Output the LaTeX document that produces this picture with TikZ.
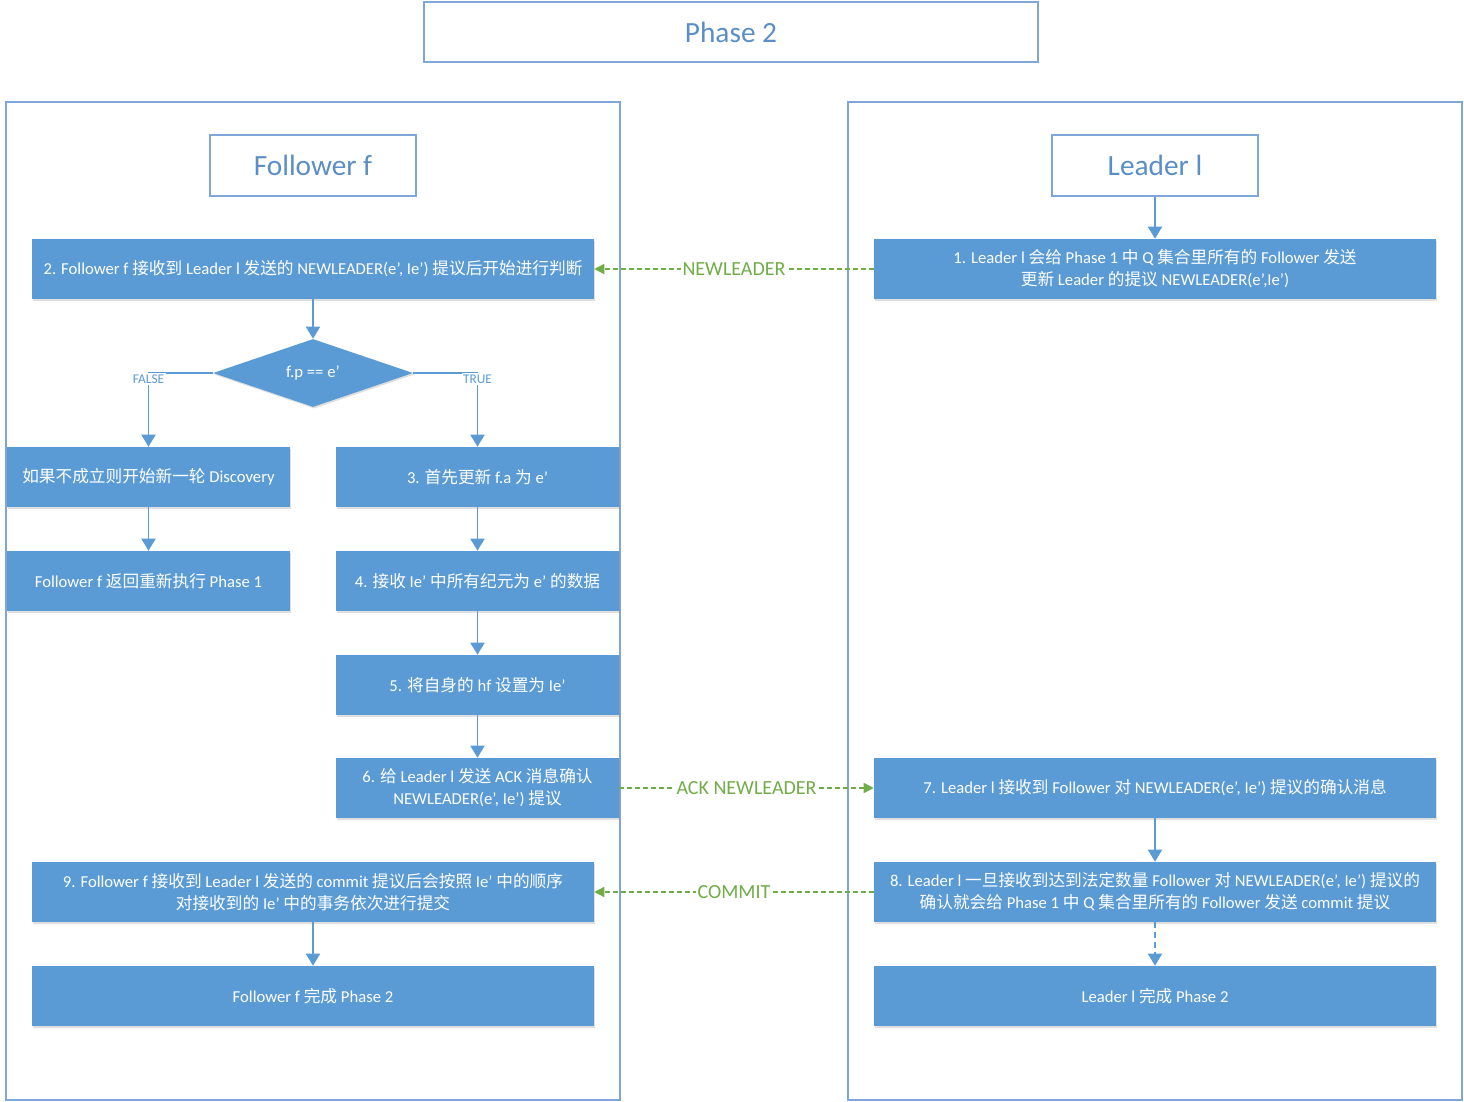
\documentclass[tikz,border=0pt]{standalone}
\usepackage{fontspec}
\setmainfont{Carlito}
\newfontfamily\cjk{Noto Sans CJK SC}
\newcommand\zh[1]{{\cjk #1}}
\usetikzlibrary{arrows.meta,shapes.geometric,shadows}
\definecolor{boxblue}{HTML}{5B9BD5}
\definecolor{linegreen}{HTML}{70AD47}
\definecolor{titleblue}{HTML}{5B8EC6}
\definecolor{frameblue}{HTML}{7EA6D8}
\tikzset{
  shd/.style={drop shadow={shadow xshift=0.9pt, shadow yshift=-1.2pt, opacity=0.25, fill=gray}},
  blk/.style={fill=boxblue, draw=none, text=white, minimum height=60*0.75pt, inner sep=0pt,
    align=center, font=\fontsize{12.5pt}{16.5pt}\selectfont, shd},
  frm/.style={draw=frameblue, line width=0.8pt, fill=none, inner sep=0pt},
  hdr/.style={draw=frameblue, line width=0.8pt, text=titleblue, inner sep=0pt,
    font=\fontsize{22pt}{26pt}\selectfont},
  arr/.style={draw=boxblue, line width=1.3pt, -{Triangle[width=10.5pt,length=9pt]}},
  garr/.style={draw=linegreen, line width=1.1pt, dash pattern=on 3.7pt off 2.3pt,
    -{Triangle[width=7.5pt,length=7.5pt]}},
  glbl/.style={fill=white, text=linegreen, inner sep=1pt, font=\fontsize{15pt}{17pt}\selectfont},
  tlbl/.style={fill=white, text=boxblue, inner sep=1pt, font=\fontsize{10pt}{11pt}\selectfont},
}
\begin{document}
\begin{tikzpicture}[x=0.75pt,y=-0.75pt]
\useasboundingbox (0,0) rectangle (1464,1102);
% title and panels
\node[hdr, minimum width=614*0.75pt, minimum height=60*0.75pt] (title) at (731,32) {Phase 2};
\node[frm, minimum width=614*0.75pt, minimum height=998*0.75pt] (lp) at (313,601) {};
\node[frm, minimum width=614*0.75pt, minimum height=998*0.75pt] (rp) at (1155,601) {};
\node[hdr, minimum width=206*0.75pt, minimum height=61*0.75pt] (fh) at (313,165.5) {Follower f};
\node[hdr, minimum width=206*0.75pt, minimum height=61*0.75pt] (lh) at (1155,165.5) {Leader l};
% leader side
\node[blk, minimum width=562*0.75pt] (b1) at (1155,269) {1. Leader l \zh{会给} Phase 1 \zh{中} Q \zh{集合里所有的} Follower \zh{发送}\\\zh{更新} Leader \zh{的提议} NEWLEADER(e’,Ie’)};
\node[blk, minimum width=562*0.75pt] (b7) at (1155,788) {7. Leader l \zh{接收到} Follower \zh{对} NEWLEADER(e’, Ie’) \zh{提议的确认消息}};
\node[blk, minimum width=562*0.75pt] (b8) at (1155,892) {8. Leader l \zh{一旦接收到达到法定数量} Follower \zh{对} NEWLEADER(e’, Ie’) \zh{提议的}\\\zh{确认就会给} Phase 1 \zh{中} Q \zh{集合里所有的} Follower \zh{发送} commit \zh{提议}};
\node[blk, minimum width=562*0.75pt] (ld) at (1155,996) {Leader l \zh{完成} Phase 2};
% follower side
\node[blk, minimum width=562*0.75pt] (b2) at (313,269) {2. Follower f \zh{接收到} Leader l \zh{发送的} NEWLEADER(e’, Ie’) \zh{提议后开始进行判断}};
\node[diamond, fill=boxblue, text=white, inner sep=0pt, minimum width=200*0.75pt, minimum height=62*0.75pt,
  font=\fontsize{12.5pt}{16.5pt}\selectfont, shd] (d) at (313,373) {f.p == e’};
\node[blk, minimum width=283*0.75pt] (bf1) at (148.5,477) {\zh{如果不成立则开始新一轮} Discovery};
\node[blk, minimum width=283*0.75pt] (bf2) at (148.5,581) {Follower f \zh{返回重新执行} Phase 1};
\node[blk, minimum width=283*0.75pt] (b3) at (477.5,477) {3. \zh{首先更新} f.a \zh{为} e’};
\node[blk, minimum width=283*0.75pt] (b4) at (477.5,581) {4. \zh{接收} Ie’ \zh{中所有纪元为} e’ \zh{的数据}};
\node[blk, minimum width=283*0.75pt] (b5) at (477.5,685) {5. \zh{将自身的} hf \zh{设置为} Ie’};
\node[blk, minimum width=283*0.75pt] (b6) at (477.5,788) {6. \zh{给} Leader l \zh{发送} ACK \zh{消息确认}\\NEWLEADER(e’, Ie’) \zh{提议}};
\node[blk, minimum width=562*0.75pt] (b9) at (313,892) {9. Follower f \zh{接收到} Leader l \zh{发送的} commit \zh{提议后会按照} Ie’ \zh{中的顺序}\\\zh{对接收到的} Ie’ \zh{中的事务依次进行提交}};
\node[blk, minimum width=562*0.75pt] (fd) at (313,996) {Follower f \zh{完成} Phase 2};
% connectors
\draw[arr] (lh.south) -- (b1.north);
\draw[garr] (b1.west) -- node[glbl] {NEWLEADER} (b2.east);
\draw[arr] (b2.south) -- (d.north);
\draw[arr] (d.west) -| node[pos=0.5, yshift=-4.5pt, tlbl] {FALSE} (bf1.north);
\draw[arr] (d.east) -| node[pos=0.5, yshift=-4.5pt, tlbl] {TRUE} (b3.north);
\draw[arr] (bf1.south) -- (bf2.north);
\draw[arr] (b3.south) -- (b4.north);
\draw[arr] (b4.south) -- (b5.north);
\draw[arr] (b5.south) -- (b6.north);
\draw[garr] (b6.east) -- node[glbl] {ACK NEWLEADER} (b7.west);
\draw[arr] (b7.south) -- (b8.north);
\draw[garr] (b8.west) -- node[glbl] {COMMIT} (b9.east);
\draw[arr] (b9.south) -- (fd.north);
\draw[arr, dash pattern=on 4.5pt off 3pt] (b8.south) -- (ld.north);
\end{tikzpicture}
\end{document}
